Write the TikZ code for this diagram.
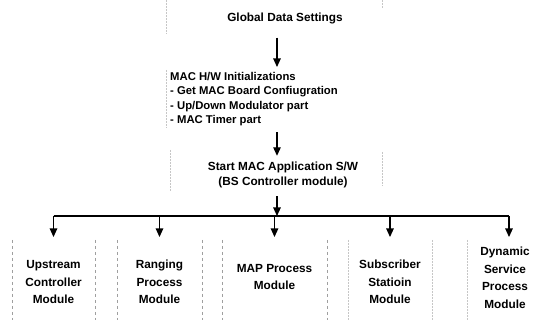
\documentclass[tikz,border=0pt]{standalone}
\usepackage{fontspec}
\setmainfont{Liberation Sans}
\usetikzlibrary{arrows.meta}
\tikzset{
  flow/.style={line width=1.1pt, -{Triangle[width=7.5pt,length=8.5pt]}},
  txt/.style={inner sep=0pt, align=center, font=\bfseries\fontsize{11.8}{15}\selectfont},
  module/.style={txt, minimum height=80pt, font=\bfseries\fontsize{11.8}{17.5}\selectfont},
  boxside/.style={gray!75, dashed, line width=0.5pt},
  ghost/.style={gray!45, densely dotted, line width=0.5pt},
}
\begin{document}
\begin{tikzpicture}[x=1pt,y=-1pt]
  \useasboundingbox (0,0) rectangle (533,320);

  % Top of the flow
  \coordinate (spine) at (277,0);
  \node[txt] (gds) at (285,18) {Global Data Settings};
  \node[txt, align=left, anchor=north west, font=\bfseries\fontsize{11.3}{14.5}\selectfont] (init) at (170,72)
    {MAC H/W Initializations\\- Get MAC Board Confiugration\\- Up/Down Modulator part\\- MAC Timer part};
  \node[txt] (start) at (283,175) {Start MAC Application S/W\\(BS Controller module)};

  % Faint box edges left by the scan
  \draw[ghost] (166,0) -- (166,34);
  \draw[ghost] (166,70) -- (166,128);
  \draw[ghost] (170,150) -- (170,192);
  \draw[ghost] (382,0) -- (382,8);
  \draw[ghost] (382,152) -- (382,186);

  % Drawing modules
  \node[module, minimum width=83pt]  (upstream)   at (53.5,282) {Upstream\\Controller\\Module};
  \node[module, minimum width=85pt]  (ranging)    at (159.5,282) {Ranging\\Process\\Module};
  \node[module, minimum width=105pt] (map)        at (274.5,277) {MAP Process\\Module};
  \node[module, minimum width=84pt]  (subscriber) at (390,282) {Subscriber\\Statioin\\Module};
  \node[module, minimum width=76pt]  (dynamic)    at (505,278) {Dynamic\\Service\\Process\\Module};

  % Drawing module box sides
  \foreach \m in {upstream,ranging,map}{
    \draw[boxside] (\m.north west |- 0,240) -- (\m.south west |- 0,320);
    \draw[boxside] (\m.north east |- 0,240) -- (\m.south east |- 0,320);
  }
  \draw[ghost] (subscriber.north west |- 0,240) -- (subscriber.south west |- 0,320);
  \draw[ghost] (subscriber.north east |- 0,240) -- (subscriber.south east |- 0,320);
  \draw[ghost] (dynamic.north west |- 0,240) -- (dynamic.south west |- 0,320);

  % Drawing arrows
  \coordinate (busL) at (53.5,216);
  \coordinate (busR) at (509,216);
  \draw[flow] ([yshift=-14pt]gds.south -| spine) -- ([yshift=5pt]init.north -| spine);
  \draw[flow] ([yshift=-6pt]init.south -| spine) -- ([yshift=6pt]start.north -| spine);
  \draw[flow] ([yshift=-8pt]start.south -| spine) -- (busL -| spine);
  \draw[line width=1.1pt] (busL) -- (busR);
  \foreach \m in {upstream,ranging,map,subscriber}
    \draw[flow] (busL -| \m.north) -- (\m.north |- 0,237);
  \draw[flow] (busR) -- (busR |- 0,237);
\end{tikzpicture}
\end{document}
